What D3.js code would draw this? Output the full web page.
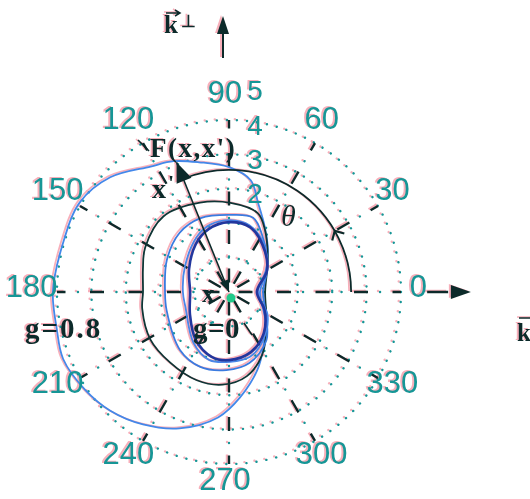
<!DOCTYPE html>
<html><head><meta charset="utf-8">
<script src="https://cdn.jsdelivr.net/npm/d3@7"></script>
<style>
html,body{margin:0;padding:0;background:#fff;overflow:hidden}
svg{display:block}
#root{filter:drop-shadow(-1.5px -1px 0 rgba(240,110,130,0.55))}
</style></head>
<body><svg id="c" width="530" height="499"></svg>
<script>
// ---- data ----
const angleTicks = [0,30,60,90,120,150,180,210,240,270,300,330];
const angleTickLabels = ["0","30","60","90","120","150","180","210","240","270","300","330"];
const ringValues = [0,1,2,3,4];
const radialTicks = [2,3,4,5];
const radialTickLabels = ["2","3","4","5"];

// innermost curve (g = 0)
const g0Angles = [0,30,55,72,90,108,125,150,180,210,235,255,270,290,310,333];
const g0Radii  = [-0.19,0.28,0.69,0.98,1.03,0.92,0.69,0.34,0.13,0.31,0.69,0.95,0.98,0.86,0.57,0.16];
// second curve
const g1Angles = [0,33,55,73,89,106,120,150,180,199,235,254,271,288,305,329];
const g1Radii  = [-0.16,0.31,0.74,1.03,1.09,1.03,0.86,0.48,0.34,0.34,0.80,1.06,1.03,0.98,0.72,0.31];
// third curve
const g2Angles = [0,35,60,72,89,111,130,153,180,196,230,249,268,286,308,337];
const g2Radii  = [-0.01,0.37,0.92,1.27,1.24,1.30,1.24,1.03,0.86,0.89,1.21,1.33,1.27,1.15,0.77,0.13];
// black curve
const g3Angles = [0,39,60,70,89,108,131,152,165,180,191,211,230,250,266,282,298,319];
const g3Radii  = [0.05,0.45,1.09,1.44,1.59,1.73,1.91,1.76,1.59,1.50,1.57,1.67,1.67,1.73,1.70,1.50,1.06,0.45];
// outer curve (g = 0.8)
const g8Angles = [0,25,47,61,72,79,90,103,113,122,136,149,164,180,192,202,214,225,237,250,265,276,290,302,322];
const g8Radii  = [-0.10,0.16,0.66,1.15,1.73,2.31,2.63,2.87,3.13,3.30,3.80,4.06,4.03,4.12,4.12,4.20,4.06,3.88,3.59,3.22,2.66,2.08,1.41,0.89,0.34];

const thetaArcRadius = 2.55, thetaArcEnd = 112;
const xPrimeAngle = 112, xPrimeRadius = 3.07;

// ---- setup ----
const teal = "#169696", ink = "#0c2a2a";
const cx = 229, cy = 292;
const rScale = d3.scaleLinear().domain([-1,4]).range([0,172]);
const aScale = d3.scaleLinear().domain([0,360]).range([0,2*Math.PI]);
const P = (a,v) => [rScale(v)*Math.cos(aScale(a)), -rScale(v)*Math.sin(aScale(a))];

const svg = d3.select("#c");
const root = svg.append("g").attr("id","root");
const g = root.append("g").attr("transform",`translate(${cx},${cy})`);

// rings (dotted)
g.selectAll("circle.ring").data(ringValues).join("circle")
  .attr("class","ring").attr("r",d=>rScale(d)).attr("fill","none")
  .attr("stroke",teal).attr("stroke-width",2.4)
  .attr("stroke-linecap","round").attr("stroke-dasharray","0.1,10");

// radial spokes (dash-dot): black dashes + teal dots
g.selectAll("line.spoke").data(angleTicks).join("line")
  .attr("class","spoke").attr("x1",0).attr("y1",0)
  .attr("x2",d=>P(d,4)[0]).attr("y2",d=>P(d,4)[1])
  .attr("stroke",ink).attr("stroke-width",2.4)
  .attr("stroke-dasharray","14,24.5").attr("stroke-dashoffset",-9.5);
g.selectAll("line.spokedot").data(angleTicks).join("line")
  .attr("class","spokedot").attr("x1",0).attr("y1",0)
  .attr("x2",d=>P(d,4)[0]).attr("y2",d=>P(d,4)[1])
  .attr("stroke",teal).attr("stroke-width",2.4).attr("stroke-linecap","round")
  .attr("stroke-dasharray","0.1,38.4").attr("stroke-dashoffset",-35.5);

// extended horizontal axis arrow
g.append("line").attr("x1",P(0,4.76)[0]).attr("y1",0).attr("x2",P(0,5.45)[0]).attr("y2",0)
  .attr("stroke",ink).attr("stroke-width",2.5).attr("stroke-dasharray","21,19");
const ax = P(0,5.45)[0];
g.append("path").attr("d",`M${ax},-7L${ax+20},0L${ax},7Z`).attr("fill",ink);

// vertical k-perp arrow
const vx = -6, vy0 = P(90,5.8)[1], vy1 = P(90,6.5)[1];
g.append("line").attr("x1",vx).attr("x2",vx).attr("y1",vy0).attr("y2",vy1)
  .attr("stroke",ink).attr("stroke-width",2);
g.append("path").attr("d",`M${vx-6},${vy1}L${vx+6},${vy1}L${vx},${vy1-18}Z`).attr("fill",ink);

// curves
const line = d3.lineRadial()
  .angle(d => Math.PI/2 - aScale(d.a))
  .radius(d => rScale(d.v))
  .curve(d3.curveCatmullRomClosed.alpha(0.5));
const series = [
  {angles:g8Angles, radii:g8Radii, color:"#4388ea", w:1.8},
  {angles:g3Angles, radii:g3Radii, color:"#0f3535", w:1.8},
  {angles:g2Angles, radii:g2Radii, color:"#3a7be0", w:1.8},
  {angles:g1Angles, radii:g1Radii, color:"#4a86e8", w:1.8},
  {angles:g0Angles, radii:g0Radii, color:"#22379e", w:2.6}
];
series.forEach(s=>{
  const pts = s.angles.map((a,i)=>({a, v:s.radii[i]}));
  g.append("path").attr("d",line(pts)).attr("fill","none")
    .attr("stroke",s.color).attr("stroke-width",s.w);
});

// theta arc
const arcR = rScale(thetaArcRadius);
g.append("path").attr("d", d3.arc().innerRadius(arcR).outerRadius(arcR)
    .startAngle(Math.PI/2 - aScale(thetaArcEnd)).endAngle(Math.PI/2)())
  .attr("fill","none").attr("stroke",ink).attr("stroke-width",1.8);
{
  const p = P(30,thetaArcRadius), a = aScale(30);
  const ang = Math.atan2(-Math.cos(a), -Math.sin(a))*180/Math.PI;
  g.append("path").attr("d","M-7,-7L0,0L-7,7")
    .attr("transform",`translate(${p[0]},${p[1]}) rotate(${ang})`)
    .attr("fill","none").attr("stroke",ink).attr("stroke-width",2.2);
}

// x' arrow
{
  const tip = P(xPrimeAngle,xPrimeRadius);
  g.append("line").attr("x1",0).attr("y1",0).attr("x2",tip[0]).attr("y2",tip[1])
    .attr("stroke",ink).attr("stroke-width",1.6);
  const ang = Math.atan2(tip[1],tip[0])*180/Math.PI;
  g.append("path").attr("d","M0,0L-20,-8L-20,8Z")
    .attr("transform",`translate(${tip[0]},${tip[1]}) rotate(${ang})`).attr("fill",ink);
  g.append("path").attr("d","M0,0L-12,-5L-12,5Z")
    .attr("transform",`rotate(${ang+180})`).attr("fill",ink);
}

// center dot
g.append("circle").attr("cx",2).attr("cy",6).attr("r",4.5).attr("fill","#22c98a");

// angular labels
g.selectAll("text.alab").data(angleTicks).join("text")
  .attr("class","alab")
  .attr("x",d=>P(d,4.62)[0]-4).attr("y",d=>P(d,4.62)[1]-6)
  .attr("text-anchor","middle").attr("dominant-baseline","central")
  .attr("font-family","Liberation Sans, Arial, sans-serif").attr("font-size",31)
  .attr("fill",teal).text((d,i)=>angleTickLabels[i]);

// radial labels
g.selectAll("text.rlab").data(radialTicks).join("text")
  .attr("class","rlab")
  .attr("x",26).attr("y",d=>-rScale(d)+5)
  .attr("text-anchor","middle").attr("dominant-baseline","central")
  .attr("font-family","Liberation Sans, Arial, sans-serif").attr("font-size",28)
  .attr("fill",teal).text((d,i)=>radialTickLabels[i]);

// annotations
const serif = "Liberation Serif, Times New Roman, serif";
function T(x,y,s,size,opt={}){
  return root.append("text").attr("x",x).attr("y",y).text(s)
    .attr("font-family",serif).attr("font-size",size)
    .attr("font-weight",opt.w||"bold").attr("font-style",opt.it||"normal")
    .attr("fill",opt.c||ink).attr("letter-spacing",opt.ls||0);
}
T(150,157,"F(x,x')",27,{ls:1.5});
root.append("path").attr("d","M138,140L149,151").attr("stroke",ink).attr("stroke-width",1.6);
T(152,198,"x",28);
T(168,190,"'",22);
T(202,302,"x",25);
T(281,226,"θ",30,{w:"normal",it:"italic"});
T(193,338,"g=0",29,{ls:0.5});
root.append("path").attr("d","M244,323L252,335").attr("stroke",ink).attr("stroke-width",1.6);
T(25,338,"g=0.8",29,{ls:2});
// k-perp
T(164,33,"k",25);
root.append("path").attr("d","M166,13L179,13M175,10L180,13L175,16").attr("fill","none").attr("stroke",ink).attr("stroke-width",1.5);
T(181,27,"⊥",17);
// k right
T(517,341,"k",25);
root.append("path").attr("d","M519,318L532,318").attr("stroke",ink).attr("stroke-width",1.5);
</script>
</body></html>
